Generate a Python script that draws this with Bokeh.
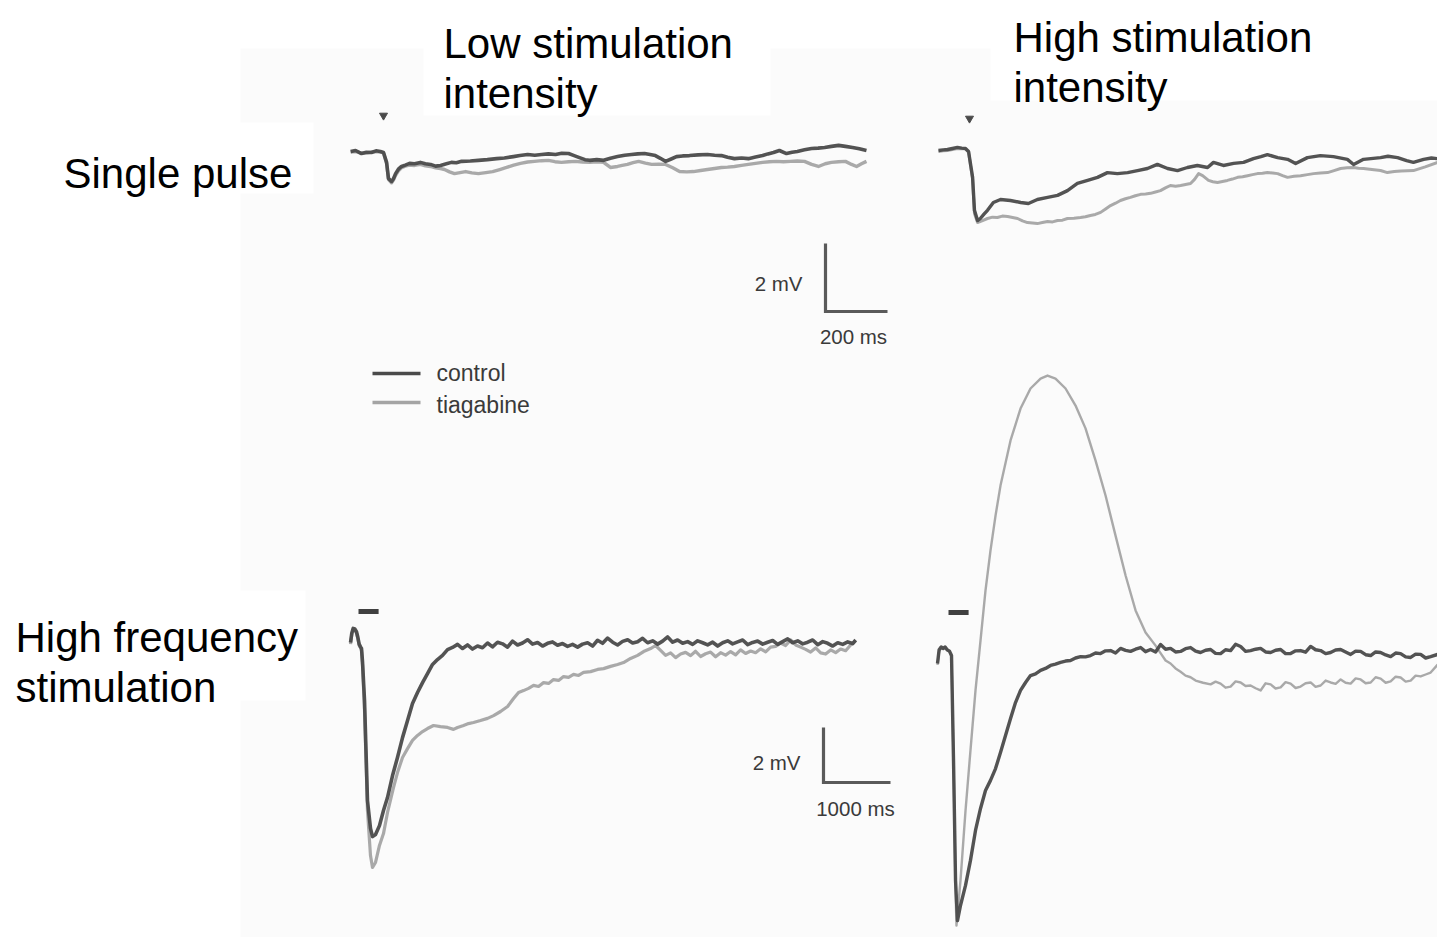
from bokeh.plotting import figure
from bokeh.models import Range1d
from bokeh.core.properties import value
from bokeh.embed import file_html
from bokeh.resources import INLINE

# ---------------- data (time in ms, potential in mV) ----------------
tl_control = [(-106, 0.0), (-90, 0.03), (-71, -0.06), (-55, -0.02), (-39, -0.03), (-24, 0.02), (-10, 0.0), (0, -0.03),
              (10, -0.32), (16, -0.79), (26, -0.88), (32, -0.80), (39, -0.65), (48, -0.52), (58, -0.44), (70, -0.40),
              (84, -0.35), (100, -0.36), (119, -0.32), (135, -0.36), (152, -0.38), (168, -0.43), (184, -0.41),
              (200, -0.37), (219, -0.32), (235, -0.33), (252, -0.29), (280, -0.28), (306, -0.26), (335, -0.24),
              (365, -0.21), (390, -0.19), (419, -0.15), (440, -0.12), (465, -0.09), (488, -0.11), (510, -0.09),
              (532, -0.07), (555, -0.09), (575, -0.05), (597, -0.06), (615, -0.12), (632, -0.18), (650, -0.24),
              (665, -0.26), (688, -0.24), (710, -0.26), (732, -0.20), (755, -0.15), (778, -0.11), (800, -0.09),
              (820, -0.07), (842, -0.06), (860, -0.09), (877, -0.12), (893, -0.20), (910, -0.29), (928, -0.22),
              (945, -0.15), (965, -0.13), (987, -0.12), (1015, -0.10), (1045, -0.09), (1068, -0.11), (1090, -0.12),
              (1110, -0.17), (1132, -0.21), (1155, -0.19), (1177, -0.21), (1200, -0.16), (1223, -0.12), (1240, -0.07),
              (1258, -0.03), (1277, 0.03), (1300, -0.06), (1318, -0.02), (1335, 0.0), (1358, 0.05), (1381, 0.09),
              (1402, 0.10), (1423, 0.12), (1445, 0.15), (1468, 0.18), (1490, 0.15), (1513, 0.12), (1535, 0.08),
              (1558, 0.03)]
tl_tiagabine = [(-106, -0.02), (-90, 0.0), (-71, -0.05), (-55, -0.04), (-39, -0.02), (-24, 0.0), (-10, -0.02), (0, -0.04),
                (10, -0.35), (16, -0.82), (26, -0.92), (32, -0.84), (39, -0.70), (48, -0.57), (58, -0.48), (70, -0.43),
                (84, -0.40), (100, -0.41), (119, -0.38), (135, -0.42), (152, -0.44), (168, -0.48), (184, -0.50),
                (197, -0.53), (213, -0.60), (229, -0.65), (247, -0.62), (265, -0.59), (285, -0.63), (306, -0.65),
                (330, -0.62), (352, -0.59), (375, -0.53), (397, -0.47), (420, -0.40), (442, -0.35), (465, -0.31),
                (487, -0.29), (510, -0.27), (532, -0.26), (553, -0.30), (574, -0.32), (597, -0.30), (619, -0.29),
                (642, -0.31), (665, -0.32), (688, -0.30), (710, -0.32), (732, -0.47), (755, -0.44), (770, -0.41),
                (787, -0.38), (805, -0.33), (823, -0.29), (845, -0.34), (865, -0.38), (888, -0.37), (910, -0.38),
                (933, -0.48), (955, -0.59), (978, -0.60), (1000, -0.59), (1023, -0.56), (1045, -0.53), (1068, -0.50),
                (1090, -0.47), (1110, -0.46), (1132, -0.44), (1155, -0.41), (1177, -0.38), (1200, -0.35), (1223, -0.32),
                (1245, -0.30), (1268, -0.29), (1290, -0.30), (1313, -0.29), (1335, -0.28), (1358, -0.29), (1381, -0.38),
                (1403, -0.44), (1425, -0.36), (1445, -0.32), (1468, -0.30), (1490, -0.29), (1510, -0.38), (1526, -0.44),
                (1542, -0.36), (1558, -0.29)]

tr_control = [(-100, 0.0), (-85, 0.02), (-71, 0.03), (-55, 0.06), (-39, 0.09), (-25, 0.07), (-13, 0.06), (-3, -0.03),
              (10, -0.79), (16, -1.76), (26, -2.06), (35, -2.0), (46, -1.88), (58, -1.76), (77, -1.53), (100, -1.44),
              (132, -1.47), (165, -1.53), (190, -1.56), (219, -1.44), (252, -1.38), (284, -1.32), (316, -1.18),
              (348, -0.97), (381, -0.88), (413, -0.79), (445, -0.65), (477, -0.68), (510, -0.65), (542, -0.59),
              (574, -0.53), (606, -0.41), (639, -0.53), (671, -0.59), (703, -0.50), (735, -0.44), (768, -0.50),
              (787, -0.35), (819, -0.44), (852, -0.38), (884, -0.35), (916, -0.24), (940, -0.18), (961, -0.12),
              (994, -0.21), (1026, -0.26), (1052, -0.38), (1090, -0.21), (1132, -0.15), (1174, -0.18), (1219, -0.26),
              (1239, -0.41), (1271, -0.26), (1326, -0.21), (1350, -0.17), (1381, -0.21), (1410, -0.30), (1432, -0.35),
              (1465, -0.26), (1490, -0.22), (1510, -0.24)]
tr_tiagabine = [(-100, -0.03), (-85, -0.01), (-71, 0.0), (-55, 0.03), (-39, 0.06), (-25, 0.05), (-13, 0.05), (-3, -0.05),
                (10, -0.85), (16, -1.85), (26, -2.12), (42, -2.06), (58, -2.0), (74, -1.96), (90, -1.97), (106, -1.93),
                (123, -1.94), (139, -1.97), (155, -2.0), (171, -2.07), (187, -2.12), (203, -2.13), (219, -2.15),
                (235, -2.12), (252, -2.09), (268, -2.10), (284, -2.06), (300, -2.05), (316, -2.0), (337, -1.99),
                (358, -1.97), (374, -1.95), (390, -1.91), (406, -1.88), (423, -1.82), (439, -1.72), (455, -1.62),
                (471, -1.55), (487, -1.47), (503, -1.42), (519, -1.38), (535, -1.33), (552, -1.29), (568, -1.28),
                (584, -1.26), (600, -1.22), (616, -1.18), (632, -1.10), (648, -1.03), (665, -1.05), (681, -1.03),
                (697, -1.0), (713, -0.97), (726, -0.85), (739, -0.68), (752, -0.74), (771, -0.88), (785, -0.92),
                (800, -0.94), (816, -0.91), (832, -0.88), (848, -0.84), (865, -0.79), (881, -0.77), (897, -0.74),
                (913, -0.71), (929, -0.68), (945, -0.67), (961, -0.65), (978, -0.66), (994, -0.68), (1010, -0.74),
                (1026, -0.79), (1047, -0.76), (1068, -0.74), (1090, -0.71), (1110, -0.68), (1132, -0.66), (1155, -0.65),
                (1176, -0.59), (1197, -0.53), (1218, -0.51), (1239, -0.50), (1255, -0.52), (1271, -0.53), (1298, -0.56),
                (1326, -0.59), (1348, -0.65), (1370, -0.62), (1392, -0.60), (1432, -0.59), (1470, -0.48), (1510, -0.35)]

bl_control = [(-119, 0.11), (-100, 0.45), (-80, 0.62), (-55, 0.60), (-30, 0.50), (-10, 0.30), (10, 0.05), (30, -0.05),
              (45, -0.11), (60, -0.6), (90, -2.0), (134, -5.64), (179, -6.65), (209, -6.95), (254, -6.87), (313, -6.55),
              (373, -6.0), (433, -5.53), (508, -4.73), (582, -4.07), (657, -3.35), (732, -2.73), (806, -2.11),
              (881, -1.71), (956, -1.35), (1030, -1.02), (1105, -0.69), (1179, -0.51), (1254, -0.36), (1329, -0.15),
              (1403, -0.07), (1478, 0.04), (1553, -0.11), (1627, 0.02), (1702, -0.13), (1776, -0.02), (1851, -0.08),
              (1926, 0.09), (2000, -0.05), (2075, 0.12), (2150, 0.06), (2225, -0.06), (2299, 0.16), (2374, 0.02),
              (2449, 0.09), (2523, 0.21), (2598, 0.05), (2673, 0.11), (2747, -0.02), (2822, 0.08), (2896, 0.13),
              (2971, 0.01), (3046, 0.07), (3120, -0.03), (3195, 0.04), (3270, -0.06), (3344, 0.05), (3419, 0.10),
              (3494, -0.02), (3568, 0.19), (3643, 0.08), (3718, 0.27), (3793, 0.12), (3867, 0.02), (3942, 0.15),
              (4017, 0.21), (4091, 0.09), (4166, 0.14), (4240, 0.26), (4315, 0.10), (4390, 0.17), (4465, 0.05),
              (4539, 0.16), (4614, 0.31), (4689, 0.12), (4763, 0.20), (4838, 0.08), (4913, 0.14), (4987, 0.04),
              (5062, 0.17), (5137, 0.10), (5211, 0.02), (5286, 0.12), (5361, -0.02), (5435, 0.10), (5510, 0.17),
              (5584, 0.06), (5659, 0.13), (5734, 0.20), (5809, 0.03), (5883, 0.11), (5958, 0.16), (6033, 0.05),
              (6107, 0.12), (6182, 0.18), (6257, 0.04), (6331, 0.14), (6406, 0.24), (6480, 0.10), (6555, 0.17),
              (6630, 0.06), (6705, 0.12), (6779, 0.20), (6854, 0.03), (6929, 0.14), (7003, 0.08), (7078, -0.02),
              (7153, 0.10), (7227, 0.04), (7302, 0.13), (7377, 0.07), (7421, 0.20)]
bl_tiagabine = [(-119, 0.05), (-100, 0.40), (-80, 0.58), (-55, 0.55), (-30, 0.45), (-10, 0.25), (10, 0.0), (30, -0.08),
                (45, -0.18), (60, -0.7), (90, -2.36), (134, -6.0), (179, -7.64), (209, -8.07), (254, -7.89),
                (313, -7.27), (373, -6.84), (433, -6.07), (523, -5.16), (582, -4.62), (657, -4.07), (732, -3.75),
                (806, -3.45), (881, -3.27), (956, -3.13), (1030, -3.02), (1120, -2.91), (1224, -2.95), (1329, -2.98),
                (1418, -3.05), (1478, -2.98), (1568, -2.91), (1642, -2.84), (1717, -2.80), (1821, -2.73),
                (1926, -2.65), (2016, -2.55), (2120, -2.40), (2225, -2.22), (2314, -1.93), (2389, -1.71),
                (2463, -1.64), (2538, -1.56), (2613, -1.45), (2687, -1.49), (2762, -1.35), (2837, -1.38),
                (2911, -1.24), (2986, -1.27), (3061, -1.13), (3135, -1.16), (3210, -1.05), (3285, -1.09),
                (3359, -0.98), (3464, -0.95), (3568, -0.87), (3658, -0.84), (3762, -0.76), (3867, -0.69),
                (3956, -0.62), (4061, -0.47), (4166, -0.36), (4255, -0.22), (4360, -0.11), (4434, 0.0),
                (4509, -0.18), (4584, -0.36), (4658, -0.27), (4733, -0.44), (4808, -0.31), (4882, -0.25),
                (4957, -0.37), (5031, -0.21), (5106, -0.40), (5181, -0.30), (5255, -0.24), (5330, -0.41),
                (5405, -0.26), (5479, -0.35), (5554, -0.22), (5629, -0.34), (5703, -0.16), (5778, -0.29),
                (5853, -0.20), (5927, -0.26), (6002, -0.12), (6077, -0.23), (6151, -0.06), (6226, -0.03),
                (6301, 0.09), (6375, 0.0), (6450, 0.20), (6525, 0.02), (6599, -0.06), (6674, -0.14), (6748, -0.24),
                (6823, -0.09), (6898, -0.27), (6972, -0.31), (7047, -0.16), (7122, -0.26), (7196, -0.13),
                (7271, -0.19), (7345, 0.02), (7421, 0.18)]

br_control = [(-164, -0.40), (-140, 0.10), (-110, 0.20), (-80, 0.15), (-50, 0.20), (-20, 0.10), (15, 0.05),
              (45, -0.11), (75, -3.93), (105, -8.29), (134, -9.75), (179, -9.20), (254, -8.47), (328, -7.56),
              (403, -6.47), (478, -5.67), (552, -5.02), (627, -4.65), (702, -4.22), (776, -3.64), (851, -3.02),
              (926, -2.40), (1000, -1.82), (1075, -1.38), (1150, -1.09), (1224, -0.84), (1299, -0.78), (1374, -0.65),
              (1448, -0.58), (1523, -0.47), (1597, -0.42), (1672, -0.36), (1747, -0.31), (1821, -0.29), (1896, -0.20),
              (1971, -0.15), (2045, -0.16), (2120, -0.11), (2195, -0.02), (2269, -0.04), (2344, 0.06), (2419, 0.07),
              (2493, -0.02), (2568, 0.15), (2643, 0.08), (2717, 0.04), (2792, 0.12), (2867, 0.18), (2941, 0.03),
              (3016, 0.11), (3091, 0.02), (3165, 0.29), (3240, 0.12), (3314, 0.15), (3389, 0.02), (3464, 0.04),
              (3538, 0.14), (3613, 0.18), (3688, 0.05), (3762, 0.0), (3837, 0.08), (3912, 0.11), (3986, -0.03),
              (4061, -0.04), (4135, 0.10), (4210, 0.07), (4285, 0.30), (4360, 0.22), (4434, 0.04), (4509, 0.07),
              (4584, 0.12), (4658, 0.15), (4733, 0.02), (4808, 0.0), (4882, 0.08), (4957, 0.11), (5031, -0.04),
              (5106, -0.04), (5181, 0.06), (5255, 0.07), (5330, 0.01), (5405, 0.22), (5479, 0.10), (5554, 0.07),
              (5629, -0.04), (5703, 0.0), (5778, 0.09), (5853, 0.11), (5927, 0.02), (6002, -0.07), (6077, 0.05),
              (6151, 0.04), (6226, -0.08), (6301, -0.11), (6375, 0.02), (6450, 0.0), (6525, -0.09), (6599, -0.15),
              (6674, -0.02), (6748, -0.04), (6823, -0.16), (6898, -0.18), (6972, -0.06), (7047, -0.07),
              (7122, -0.20), (7196, -0.15), (7301, -0.07)]
br_tiagabine = [(-164, -0.45), (-140, 0.05), (-110, 0.15), (-80, 0.12), (-50, 0.18), (-20, 0.08), (15, 0.02),
                (45, -0.15), (75, -3.93), (105, -8.6), (119, -9.93), (179, -8.29), (254, -5.75), (328, -3.56),
                (403, -1.38), (478, 0.44), (552, 2.25), (627, 3.71), (702, 4.98), (776, 6.07), (926, 7.71),
                (1075, 8.87), (1224, 9.60), (1374, 9.96), (1478, 10.07), (1597, 9.96), (1747, 9.60), (1896, 8.98),
                (2045, 8.15), (2195, 6.98), (2344, 5.71), (2493, 4.25), (2643, 2.80), (2792, 1.53), (2941, 0.73),
                (3091, 0.25), (3165, -0.02), (3240, -0.29), (3314, -0.40), (3389, -0.58), (3464, -0.70),
                (3538, -0.84), (3613, -0.90), (3688, -1.02), (3800, -1.10), (3912, -1.16), (3986, -1.06),
                (4061, -1.13), (4135, -1.28), (4210, -1.24), (4285, -1.05), (4360, -1.09), (4434, -1.22),
                (4509, -1.20), (4584, -1.30), (4658, -1.38), (4733, -1.12), (4808, -1.16), (4882, -1.31),
                (4957, -1.27), (5031, -1.08), (5106, -1.13), (5181, -1.29), (5255, -1.24), (5330, -1.12),
                (5405, -1.09), (5479, -1.25), (5554, -1.20), (5629, -1.02), (5703, -1.09), (5778, -1.14),
                (5853, -0.98), (5927, -1.10), (6002, -1.13), (6077, -0.94), (6151, -0.98), (6226, -1.12),
                (6301, -1.09), (6375, -0.90), (6450, -0.95), (6525, -1.10), (6599, -1.05), (6674, -0.88),
                (6748, -0.91), (6823, -1.06), (6898, -1.02), (6972, -0.84), (7047, -0.87), (7122, -0.80),
                (7196, -0.73), (7301, -0.44)]

single_pulse_time = [0]               # ms, stimulus arrowhead
train_start, train_dur = [0], [300]   # ms, high-frequency train bar
scale_top = (2, 200)                  # mV, ms
scale_bottom = (2, 1000)              # mV, ms
series_names = ["control", "tiagabine"]
row_labels = ["Single pulse", "High frequency", "stimulation"]
col_labels = ["Low stimulation", "intensity", "High stimulation", "intensity"]

# ---------------- page & layout ----------------
W, H = 1437, 937
C_CTRL, C_TIAG = "#4a4a4a", "#a4a4a4"
C_INK = "#3a3a3a"
FONT = value("Liberation Sans")

p = figure(width=W, height=H, x_range=Range1d(0, W), y_range=Range1d(H, 0), min_border=0,
           toolbar_location=None, output_backend="svg", x_axis_location=None, y_axis_location=None)
p.grid.visible = False
p.outline_line_color = None
p.background_fill_color = "white"
p.border_fill_color = "white"

# panel placement: page-pixel origin of (t=0, v=0) and pixels per ms / per mV
panels = {
    "tl": dict(x0=383, y0=151, sx=0.31, sy=34.0),
    "tr": dict(x0=969, y0=150, sx=0.31, sy=34.0),
    "bl": dict(x0=358, y0=645, sx=0.067, sy=27.5),
    "br": dict(x0=948, y0=652, sx=0.067, sy=27.5),
}
xr, yr = {}, {}
for k, d in panels.items():
    xr[k] = Range1d(-d["x0"] / d["sx"], (W - d["x0"]) / d["sx"])
    yr[k] = Range1d((d["y0"] - H) / d["sy"], d["y0"] / d["sy"])
p.extra_x_ranges = xr
p.extra_y_ranges = yr

def to_panel(k, px, py):
    d = panels[k]
    return (px - d["x0"]) / d["sx"], (d["y0"] - py) / d["sy"]

# faint tint of the scanned figure
p.quad(left=[240], right=[W], top=[48], bottom=[H], fill_color="#fbfbfb", line_color=None)
p.quad(left=[423, 990, 0, 0], right=[770, W, 313, 305], top=[0, 0, 122, 590],
       bottom=[115, 100, 193, 700], fill_color="white", line_color=None)

# traces
traces = [("tl", tl_tiagabine, tl_control, 3.4, 3.6), ("tr", tr_tiagabine, tr_control, 3.0, 3.4),
          ("bl", bl_tiagabine, bl_control, 3.2, 3.6), ("br", br_tiagabine, br_control, 2.4, 3.4)]
for k, tiag, ctrl, lw_t, lw_c in traces:
    for data, col, lw in ((tiag, C_TIAG, lw_t), (ctrl, C_CTRL, lw_c)):
        p.line([a for a, b in data], [b for a, b in data], x_range_name=k, y_range_name=k,
               line_color=col, line_width=lw, line_join="round", line_alpha=0.95)

# stimulus markers
for k, py in (("tl", 115), ("tr", 118)):
    _, vy = to_panel(k, 0, py)
    p.scatter(single_pulse_time, [vy], x_range_name=k, y_range_name=k, marker="inverted_triangle",
              size=8, fill_color="#4a4a4a", line_color="#4a4a4a")
for k, py in (("bl", 611), ("br", 612)):
    _, vy = to_panel(k, 0, py)
    p.segment(x0=train_start, y0=[vy], x1=[a + b for a, b in zip(train_start, train_dur)], y1=[vy],
              x_range_name=k, y_range_name=k, line_color="#404040", line_width=5)

# scale bars
for k, (cx, cy), (mv, ms) in (("tl", (825, 311), scale_top), ("bl", (823, 782), scale_bottom)):
    t0, v0 = to_panel(k, cx, cy)
    p.line([t0, t0, t0 + ms], [v0 + mv, v0, v0], x_range_name=k, y_range_name=k,
           line_color="#5a5a5a", line_width=3.2, line_join="miter")

p.text(x=[802, 800], y=[283, 762], text=[f"{scale_top[0]} mV", f"{scale_bottom[0]} mV"],
       text_font=FONT, text_font_size="20.5px", text_color=C_INK, text_align="right", text_baseline="middle")
p.text(x=[853, 855], y=[336, 808], text=[f"{scale_top[1]} ms", f"{scale_bottom[1]} ms"],
       text_font=FONT, text_font_size="20.5px", text_color=C_INK, text_align="center", text_baseline="middle")

# legend
p.segment(x0=[372, 372], y0=[373, 402], x1=[420, 420], y1=[373, 402], line_color=[C_CTRL, C_TIAG], line_width=3.5)
p.text(x=[436, 436], y=[372, 404], text=series_names, text_font=FONT, text_font_size="23px",
       text_color=C_INK, text_align="left", text_baseline="middle")

# headings
p.text(x=[443, 443, 1013, 1013], y=[43, 93, 37, 87], text=col_labels, text_font=FONT,
       text_font_size="42px", text_color="black", text_align="left", text_baseline="alphabetic")
p.text(x=[63, 15, 15], y=[173, 637, 687], text=row_labels, text_font=FONT,
       text_font_size="42px", text_color="black", text_align="left", text_baseline="alphabetic")

open("out.html", "w").write(file_html(p, INLINE))
